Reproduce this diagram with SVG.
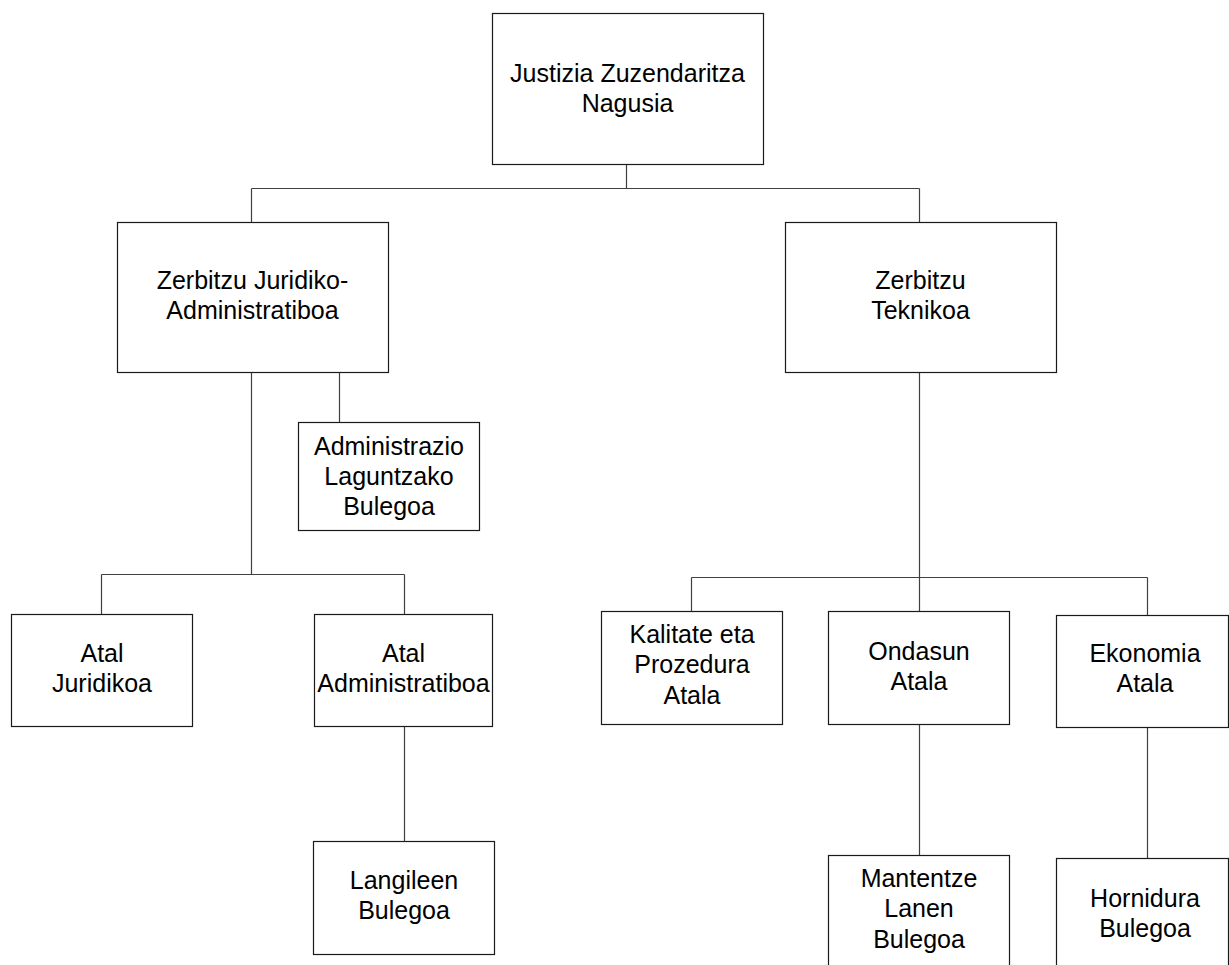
<svg xmlns="http://www.w3.org/2000/svg" width="1229" height="965" viewBox="0 0 1229 965">
<style>
.box{fill:#fff;stroke:#1a1a1a;stroke-width:1.2}
.c{fill:none;stroke:#404040;stroke-width:1.2}
text{font-family:"Liberation Sans",Arial,sans-serif;font-size:25px;fill:#000;text-anchor:middle}
</style>
<rect width="1229" height="965" fill="#fff"/>
<g id="connectors">
<path class="c" d="M626.5,164 V188.5 M251.5,188.5 H919.5 M251.5,188.5 V222 M919.5,188.5 V222"/>
<path class="c" d="M251.5,372 V574.5 M339.5,372 V422 M101.5,574.5 H404.5 M101.5,574.5 V614 M404.5,574.5 V614 M404.5,726 V841"/>
<path class="c" d="M919.5,372 V611 M691.5,577.5 H1147.5 M691.5,577.5 V611 M1147.5,577.5 V615 M919.5,724 V855 M1147.5,727 V858"/>
</g>
<g id="n_justizia"><rect class="box" x="492.5" y="13.5" width="271" height="151"/><text x="627.5" y="82">Justizia Zuzendaritza</text><text x="627.5" y="112">Nagusia</text></g>
<g id="n_juridiko"><rect class="box" x="117.5" y="222.5" width="271" height="150"/><text x="252.5" y="289">Zerbitzu Juridiko-</text><text x="252.5" y="319">Administratiboa</text></g>
<g id="n_teknikoa"><rect class="box" x="785.5" y="222.5" width="271" height="150"/><text x="920.5" y="289">Zerbitzu</text><text x="920.5" y="319">Teknikoa</text></g>
<g id="n_laguntzako"><rect class="box" x="298.5" y="422.5" width="181" height="108"/><text x="389" y="455">Administrazio</text><text x="389" y="485">Laguntzako</text><text x="389" y="515">Bulegoa</text></g>
<g id="n_atal_juridikoa"><rect class="box" x="11.5" y="614.5" width="181" height="112"/><text x="102" y="662">Atal</text><text x="102" y="692">Juridikoa</text></g>
<g id="n_atal_admin"><rect class="box" x="314.5" y="614.5" width="178" height="112"/><text x="403.5" y="662">Atal</text><text x="403.5" y="692">Administratiboa</text></g>
<g id="n_kalitate"><rect class="box" x="601.5" y="611.5" width="181" height="113"/><text x="692" y="643">Kalitate eta</text><text x="692" y="673">Prozedura</text><text x="692" y="704">Atala</text></g>
<g id="n_ondasun"><rect class="box" x="828.5" y="611.5" width="181" height="113"/><text x="919" y="660">Ondasun</text><text x="919" y="690">Atala</text></g>
<g id="n_ekonomia"><rect class="box" x="1056.5" y="615.5" width="172" height="112"/><text x="1145" y="662">Ekonomia</text><text x="1145" y="692">Atala</text></g>
<g id="n_langileen"><rect class="box" x="313.5" y="841.5" width="181" height="113"/><text x="404" y="889">Langileen</text><text x="404" y="919">Bulegoa</text></g>
<g id="n_mantentze"><rect class="box" x="828.5" y="855.5" width="181" height="120"/><text x="919" y="887">Mantentze</text><text x="919" y="917">Lanen</text><text x="919" y="948">Bulegoa</text></g>
<g id="n_hornidura"><rect class="box" x="1056.5" y="858.5" width="172" height="120"/><text x="1145" y="907">Hornidura</text><text x="1145" y="937">Bulegoa</text></g>
</svg>
